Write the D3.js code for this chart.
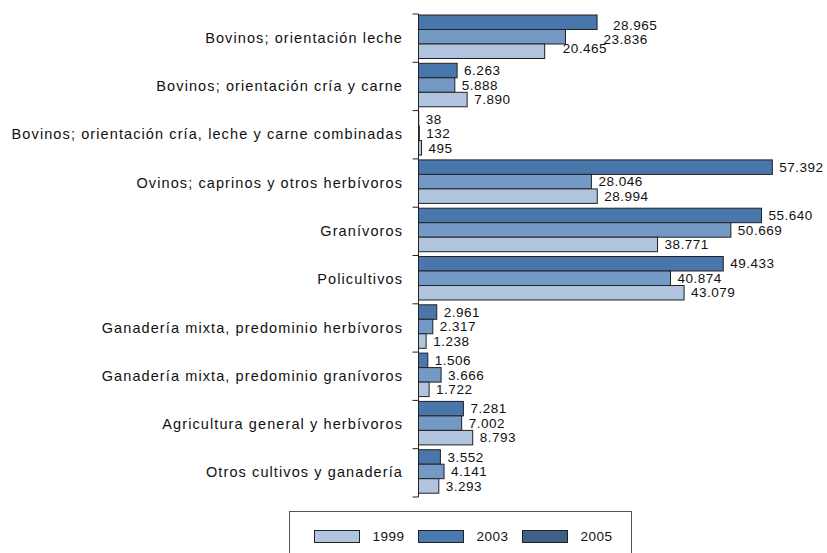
<!DOCTYPE html>
<html>
<head>
<meta charset="utf-8">
<script src="https://cdnjs.cloudflare.com/ajax/libs/d3/7.8.5/d3.min.js"></script>
<style>
  body { margin: 0; background: #fff; }
  svg { display: block; font-family: "Liberation Sans", Arial, sans-serif; }
</style>
</head>
<body>
<div id="chart"></div>
<script>

// data ====================

var categories = [
  "Bovinos; orientación leche",
  "Bovinos; orientación cría y carne",
  "Bovinos; orientación cría, leche y carne combinadas",
  "Ovinos; caprinos y otros herbívoros",
  "Granívoros",
  "Policultivos",
  "Ganadería mixta, predominio herbívoros",
  "Ganadería mixta, predominio granívoros",
  "Agricultura general y herbívoros",
  "Otros cultivos y ganadería"
];

var years = ["1999", "2003", "2005"];

var values1999 = [20465, 7890, 495, 28994, 38771, 43079, 1238, 1722, 8793, 3293];
var values2003 = [23836, 5888, 132, 28046, 50669, 40874, 2317, 3666, 7002, 4141];
var values2005 = [28965, 6263, 38, 57392, 55640, 49433, 2961, 1506, 7281, 3552];

var series = { "1999": values1999, "2003": values2003, "2005": values2005 };

// colours as they appear (bars and legend don't quite agree in the original)
var barColors = { "1999": "#b0c4de", "2003": "#7499c4", "2005": "#4a77ab" };
var legendColors = { "1999": "#b0c4de", "2003": "#4a7aaf", "2005": "#3f6088" };

// a few labels in the first group were dragged around in the original
var labelNudge = {
  "0|2005": [9, 3.5],
  "0|2003": [31, 2.5],
  "0|1999": [11, -2.7]
};

var fmt = function(v) {
  return d3.format(",")(v).replace(/,/g, ".");
};

// chart ====================

var width = 827;
var height = 553;

var svg = d3.select('#chart')
  .append('svg')
  .attr('width', width)
  .attr('height', height);

var x = d3.scaleLinear()
  .domain([0, 60000])
  .range([418.5, 788.4]);

var y0 = d3.scaleBand()
  .domain(d3.range(categories.length))
  .range([14, 497]);

// top bar is 2005, bottom is 1999
var y1 = d3.scaleBand()
  .domain(["2005", "2003", "1999"])
  .range([1, 44.5]);

var groups = svg.selectAll('g.group')
  .data(categories)
  .enter()
  .append('g')
  .attr('class', 'group')
  .attr('transform', function(d, i) { return 'translate(0,' + y0(i) + ')'; });

groups.selectAll('rect')
  .data(function(d, i) {
    return y1.domain().map(function(yr) { return { idx: i, year: yr, value: series[yr][i] }; });
  })
  .enter()
  .append('rect')
  .attr('x', x(0))
  .attr('y', function(d) { return y1(d.year); })
  .attr('width', function(d) { return x(d.value) - x(0); })
  .attr('height', y1.bandwidth())
  .style('fill', function(d) { return barColors[d.year]; })
  .style('stroke', '#222')
  .style('stroke-width', 1);

groups.selectAll('text.val')
  .data(function(d, i) {
    return y1.domain().map(function(yr) { return { idx: i, year: yr, value: series[yr][i] }; });
  })
  .enter()
  .append('text')
  .attr('class', 'val')
  .attr('x', function(d) {
    var n = labelNudge[d.idx + '|' + d.year];
    return x(d.value) + 7 + (n ? n[0] : 0);
  })
  .attr('y', function(d) {
    var n = labelNudge[d.idx + '|' + d.year];
    return y1(d.year) + y1.bandwidth() / 2 + (n ? n[1] : 0);
  })
  .attr('dy', '0.35em')
  .style('font-size', '13.5px')
  .style('letter-spacing', '0.5px')
  .style('fill', '#111')
  .text(function(d) { return fmt(d.value); });

// axis (ticks sit between the categories)
var axis = svg.append('g').attr('class', 'axis');

axis.append('line')
  .attr('x1', x(0)).attr('x2', x(0))
  .attr('y1', y0.range()[0]).attr('y2', y0.range()[1])
  .style('stroke', '#222');

axis.selectAll('line.tick')
  .data(d3.range(categories.length + 1))
  .enter()
  .append('line')
  .attr('class', 'tick')
  .attr('x1', x(0) - 6).attr('x2', x(0))
  .attr('y1', function(d) { return y0.range()[0] + d * y0.step(); })
  .attr('y2', function(d) { return y0.range()[0] + d * y0.step(); })
  .style('stroke', '#222');

axis.selectAll('text')
  .data(categories)
  .enter()
  .append('text')
  .attr('x', x(0) - 15.5)
  .attr('y', function(d, i) { return y0(i) + y0.bandwidth() / 2 - 0.5; })
  .attr('dy', '0.35em')
  .attr('text-anchor', 'end')
  .style('font-size', '14.5px')
  .style('letter-spacing', '1.1px')
  .style('fill', '#111')
  .text(function(d) { return d; });

// legend ====================

var legend = svg.append('g').attr('class', 'legend');

legend.append('rect')
  .attr('x', 289.5)
  .attr('y', 511.5)
  .attr('width', 342)
  .attr('height', 60)
  .style('fill', '#fff')
  .style('stroke', '#555');

var items = legend.selectAll('g.item')
  .data(years)
  .enter()
  .append('g')
  .attr('class', 'item')
  .attr('transform', function(d, i) { return 'translate(' + (314.5 + i * 104) + ',530.5)'; });

items.append('rect')
  .attr('width', 45)
  .attr('height', 12)
  .style('fill', function(d) { return legendColors[d]; })
  .style('stroke', '#222');

items.append('text')
  .attr('x', 58)
  .attr('y', 6)
  .attr('dy', '0.35em')
  .style('font-size', '13.5px')
  .style('letter-spacing', '0.5px')
  .style('fill', '#111')
  .text(function(d) { return d; });

</script>
</body>
</html>
